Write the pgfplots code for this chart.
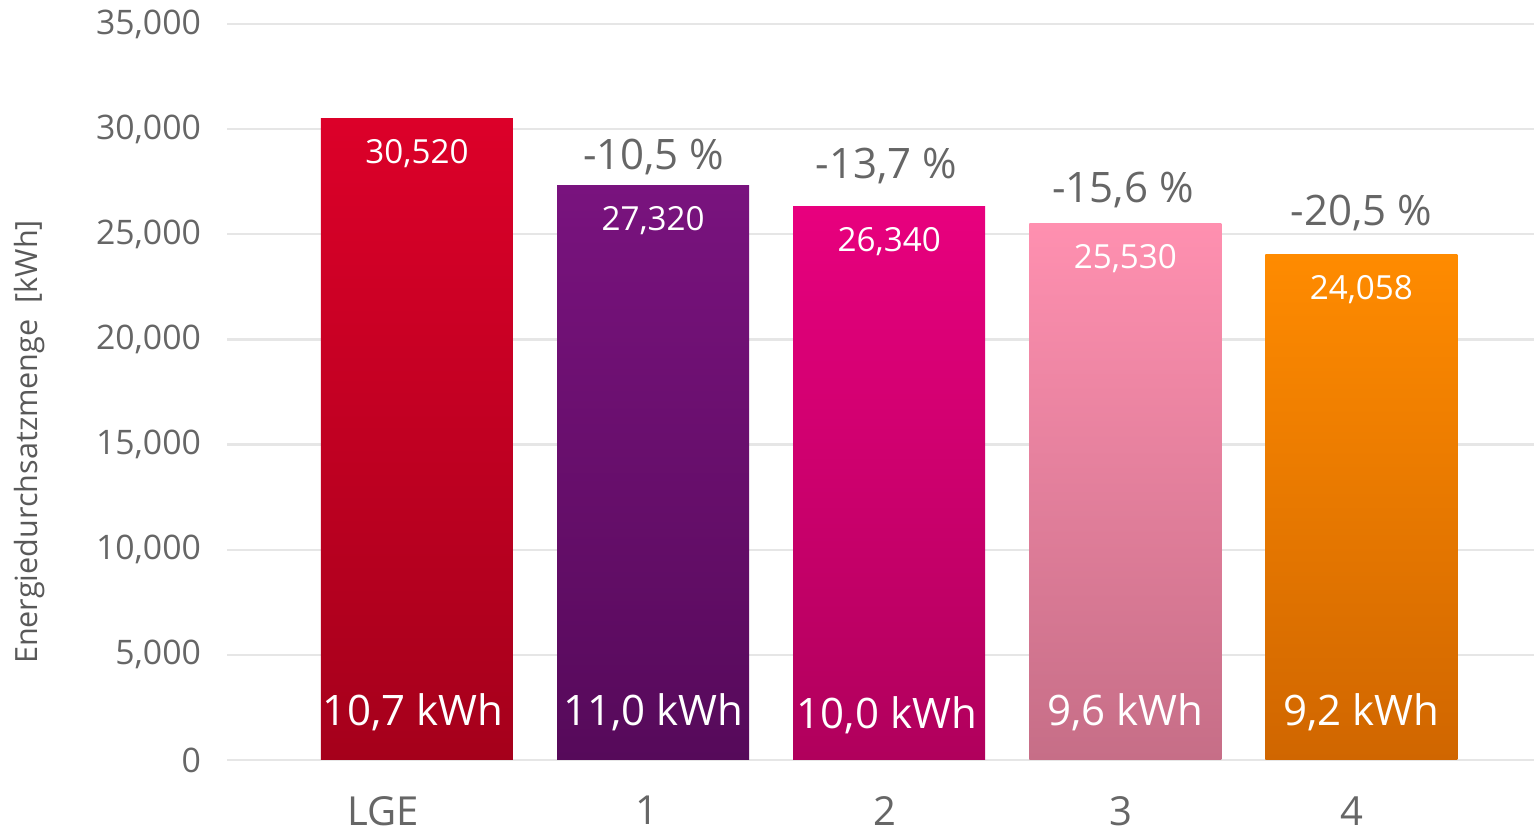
\documentclass[border=0pt]{standalone}
\usepackage{pgfplots}
\pgfplotsset{compat=1.18}
\usepackage{fontspec}
\setmainfont{Open Sans}
\definecolor{tickgray}{HTML}{666666}
\definecolor{labgray}{HTML}{595959}
\definecolor{gridgray}{HTML}{E6E6E6}
\definecolor{rTop}{HTML}{DC0029}
\definecolor{rBot}{HTML}{A5001B}
\definecolor{pTop}{HTML}{79137E}
\definecolor{pBot}{HTML}{560A5A}
\definecolor{mTop}{HTML}{E8007E}
\definecolor{mBot}{HTML}{B0005C}
\definecolor{lTop}{HTML}{FF90B0}
\definecolor{lBot}{HTML}{C66E87}
\definecolor{oTop}{HTML}{FF8B00}
\definecolor{oBot}{HTML}{D06600}
\begin{document}
\begin{tikzpicture}
\begin{axis}[
  at={(0,0)}, anchor=south west,
  scale only axis,
  width=653.5bp, height=368bp,
  xmin=-0.8047, xmax=4.731,
  ymin=0, ymax=35000,
  ytick={0,5000,...,35000},
  xtick={-0.142,0.974,1.982,2.982,3.960},
  xticklabels={LGE,1,2,3,4},
  /pgf/number format/assume math mode=true,
  /pgf/number format/1000 sep={,},
  scaled y ticks=false,
  axis line style={draw=none},
  major tick length=0pt,
  ymajorgrids,
  grid style={gridgray, line width=1.2bp},
  yticklabel style={font=\fontsize{16.9bp}{18bp}\selectfont, text=tickgray, xshift=-9.5bp},
  xticklabel style={font=\fontsize{20bp}{22bp}\selectfont, text=tickgray, inner sep=0pt, anchor=north, yshift=-18bp},
  ylabel={Energiedurchsatzmenge\ \ [kWh]},
  ylabel style={at={(axis description cs:-0.1507,0.432)}, anchor=center, font=\fontsize{15.3bp}{18bp}\selectfont, text=labgray},
  ybar, bar width=96bp, bar shift=0pt,
  nodes near coords,
  every node near coord/.append style={anchor=north, inner sep=0pt, yshift=-10.5bp, text=white, font=\fontsize{16.6bp}{18bp}\selectfont},
  clip=false,
]
\addplot[draw=none, top color=rTop, bottom color=rBot] coordinates {(0,30520)};
\addplot[draw=none, top color=pTop, bottom color=pBot] coordinates {(1,27320)};
\addplot[draw=none, top color=mTop, bottom color=mBot] coordinates {(2,26340)};
\addplot[draw=none, top color=lTop, bottom color=lBot] coordinates {(3,25530)};
\addplot[draw=none, top color=oTop, bottom color=oBot] coordinates {(4,24058)};
% percentage labels
\begin{scope}[every node/.style={anchor=base, inner sep=0pt, text=tickgray, font=\fontsize{21bp}{24bp}\selectfont}]
\node at (axis cs:1.003,28100) {-10,5 \%};
\node at (axis cs:1.988,27675) {-13,7 \%};
\node at (axis cs:2.99,26534) {-15,6 \%};
\node at (axis cs:4.0,25440) {-20,5 \%};
\end{scope}
% kWh labels
\begin{scope}[every node/.style={anchor=base, inner sep=0pt, text=white, font=\fontsize{21bp}{24bp}\selectfont}]
\node at (axis cs:-0.017,1620) {10,7 kWh};
\node at (axis cs:1.0,1620) {11,0 kWh};
\node at (axis cs:1.99,1480) {10,0 kWh};
\node at (axis cs:3.0,1620) {9,6 kWh};
\node at (axis cs:4.0,1620) {9,2 kWh};
\end{scope}
\end{axis}
\pgfresetboundingbox
\path[use as bounding box] (-113.5bp,-35.5bp) rectangle (653.5bp,380bp);
\end{tikzpicture}
\end{document}
